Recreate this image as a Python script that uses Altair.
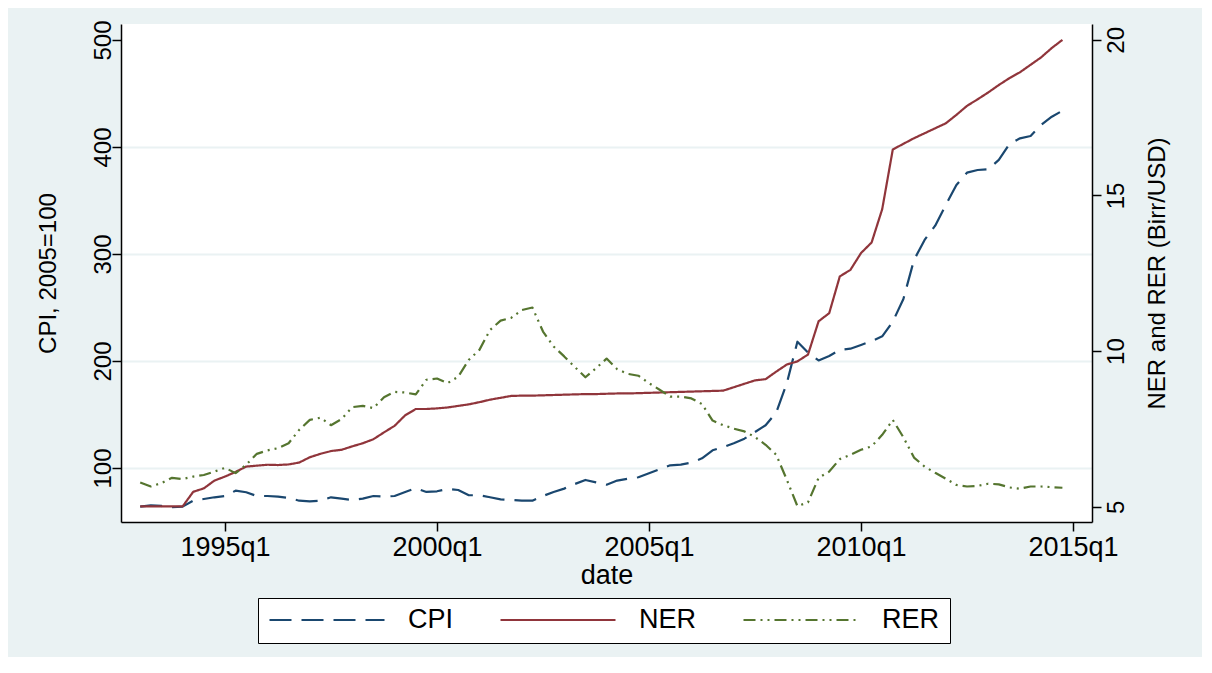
import altair as alt
import pandas as pd

start_year = 1993
n_quarters = 88
quarters = [f"{start_year + k // 4}q{k % 4 + 1}" for k in range(n_quarters)]

cpi = [63.9, 65.1, 64.5, 63.3, 63.9, 69.4, 71.0, 72.6, 73.8, 78.8,
       77.3, 73.8, 73.8, 73.2, 72.0, 69.4, 68.8, 69.4, 72.6, 71.3,
       70.1, 71.3, 73.8, 73.2, 73.8, 77.6, 81.1, 77.6, 78.2, 80.4,
       79.4, 74.5, 74.5, 72.6, 70.7, 70.1, 69.4, 69.4, 73.8, 77.6,
       80.7, 85.0, 88.8, 86.6, 84.4, 88.2, 90.0, 91.3, 95.0, 98.8,
       102.5, 103.1, 105.0, 109.0, 116.5, 119.5, 123.1, 127.4, 133.6, 139.9,
       151.7, 179.2, 218.0, 207.8, 200.5, 204.7, 210.3, 211.5, 215.0, 218.5,
       223.0, 236.8, 258.0, 294.4, 313.1, 326.5, 345.8, 364.5, 376.0, 378.5,
       379.1, 387.9, 402.8, 408.1, 410.3, 420.6, 428.3, 433.9]

ner = [5.01, 5.01, 5.01, 5.01, 5.01, 5.48, 5.59, 5.84, 5.97, 6.12,
       6.29, 6.32, 6.35, 6.34, 6.36, 6.42, 6.59, 6.70, 6.79, 6.83,
       6.94, 7.04, 7.17, 7.39, 7.60, 7.94, 8.14, 8.14, 8.16, 8.19,
       8.24, 8.29, 8.36, 8.44, 8.50, 8.56, 8.57, 8.57, 8.58, 8.59,
       8.60, 8.61, 8.62, 8.62, 8.63, 8.64, 8.64, 8.65, 8.66, 8.67,
       8.68, 8.69, 8.70, 8.71, 8.72, 8.73, 8.84, 8.95, 9.06, 9.10,
       9.34, 9.57, 9.67, 9.89, 10.96, 11.22, 12.40, 12.61, 13.15, 13.49,
       14.56, 16.48, 16.66, 16.84, 17.00, 17.16, 17.32, 17.59, 17.88, 18.09,
       18.31, 18.55, 18.77, 18.96, 19.20, 19.44, 19.74, 20.00]

rer = [5.78, 5.65, 5.76, 5.93, 5.89, 5.97, 6.02, 6.13, 6.25, 6.08,
       6.35, 6.70, 6.81, 6.88, 7.04, 7.47, 7.79, 7.86, 7.62, 7.82,
       8.20, 8.24, 8.17, 8.52, 8.69, 8.67, 8.61, 9.08, 9.12, 8.97,
       9.18, 9.72, 10.04, 10.68, 10.98, 11.07, 11.32, 11.40, 10.63, 10.15,
       9.83, 9.49, 9.16, 9.45, 9.76, 9.42, 9.27, 9.21, 8.97, 8.76,
       8.54, 8.54, 8.48, 8.30, 7.77, 7.62, 7.51, 7.42, 7.24, 6.99,
       6.67, 5.87, 5.02, 5.14, 5.93, 6.13, 6.53, 6.67, 6.83, 6.94,
       7.31, 7.79, 7.23, 6.58, 6.29, 6.09, 5.90, 5.70, 5.65, 5.67,
       5.74, 5.72, 5.62, 5.58, 5.65, 5.65, 5.63, 5.61]

series_names = ["CPI", "NER", "RER"]
series_colors = ["#1a476f", "#90353b", "#55752f"]
series_dashes = [[22, 10], [1, 0], [12, 5, 2, 5, 2, 5]]

x_ticks = [1995, 2000, 2005, 2010, 2015]
left_ticks = [100, 200, 300, 400, 500]
right_ticks = [5, 10, 15, 20]

rows = []
for k, q in enumerate(quarters):
    t = start_year + k / 4
    rows.append({"date": q, "t": t, "series": "CPI", "value": cpi[k]})
    rows.append({"date": q, "t": t, "series": "NER", "value": ner[k]})
    rows.append({"date": q, "t": t, "series": "RER", "value": rer[k]})
df = pd.DataFrame(rows)

FONT = "Liberation Sans"
BG = "#eaf2f3"

x_enc = alt.X(
    "t:Q",
    scale=alt.Scale(domain=[1992.547, 2015.448], nice=False, zero=False),
    axis=alt.Axis(
        values=x_ticks,
        labelExpr="format(datum.value, 'd') + 'q1'",
        title="date",
        titleFontSize=27,
        titleFontWeight="normal",
        titlePadding=2,
        labelFontSize=27,
        labelPadding=3,
        tickSize=9,
        grid=False,
        labelFlush=False,
        labelOverlap=False,
    ),
)

color_enc = alt.Color(
    "series:N",
    scale=alt.Scale(domain=series_names, range=series_colors),
    title=None,
)
dash_enc = alt.StrokeDash(
    "series:N",
    scale=alt.Scale(domain=series_names, range=series_dashes),
    title=None,
)

base = alt.Chart(df)

cpi_layer = base.transform_filter(alt.datum.series == "CPI").mark_line(
    strokeWidth=2.2, strokeJoin="round"
).encode(
    x=x_enc,
    y=alt.Y(
        "value:Q",
        scale=alt.Scale(domain=[49.5, 514.95], nice=False, zero=False),
        axis=alt.Axis(
            orient="left",
            values=left_ticks,
            title="CPI, 2005=100",
            titleFontSize=24,
            titleFontWeight="normal",
            titleAngle=270,
            titleBaseline="bottom",
            titlePadding=31,
            labelFontSize=24,
            labelAngle=270,
            labelAlign="center",
            labelBaseline="alphabetic",
            labelPadding=2,
            tickSize=9,
            grid=True,
            gridColor=BG,
            gridWidth=2,
            gridOpacity={"condition": {"test": "datum.value === 500", "value": 0}, "value": 1},
        ),
    ),
    color=color_enc,
    strokeDash=dash_enc,
    order="t:Q",
)

er_layer = base.transform_filter(
    alt.FieldOneOfPredicate(field="series", oneOf=["NER", "RER"])
).mark_line(strokeWidth=2.2, strokeJoin="round").encode(
    x=x_enc,
    y=alt.Y(
        "value:Q",
        scale=alt.Scale(domain=[4.51, 20.51], nice=False, zero=False),
        axis=alt.Axis(
            orient="right",
            values=right_ticks,
            title="NER and RER (Birr/USD)",
            titleFontSize=24,
            titleFontWeight="normal",
            titleAngle=270,
            titleBaseline="top",
            titlePadding=17,
            labelFontSize=24,
            labelAngle=270,
            labelAlign="center",
            labelBaseline="top",
            labelPadding=3,
            tickSize=9,
            grid=False,
        ),
    ),
    color=color_enc,
    strokeDash=dash_enc,
    order="t:Q",
)

chart = (
    alt.layer(cpi_layer, er_layer)
    .resolve_scale(y="independent")
    .properties(
        width=971,
        height=498,
        autosize=alt.AutoSizeParams(type="none"),
        padding={"left": 113, "top": 16, "right": 110, "bottom": 135},
        background=BG,
    )
    .configure(font=FONT)
    .configure_view(fill="white", stroke=None)
    .configure_axis(
        domainColor="black",
        domainWidth=1.5,
        tickColor="black",
        tickWidth=1.5,
        labelColor="black",
        titleColor="black",
        labelFont=FONT,
        titleFont=FONT,
    )
    .configure_legend(
        orient="none",
        legendX=137,
        legendY=574,
        direction="horizontal",
        symbolType="stroke",
        symbolSize=13225,
        symbolStrokeWidth=2.2,
        clipHeight=24,
        labelFontSize=27,
        labelFont=FONT,
        labelColor="black",
        labelOffset=22,
        columnPadding=45,
        padding=10,
        strokeColor="black",
        fillColor="white",
    )
)

chart.save("out.html", embed_options={"renderer": "svg", "actions": False})
